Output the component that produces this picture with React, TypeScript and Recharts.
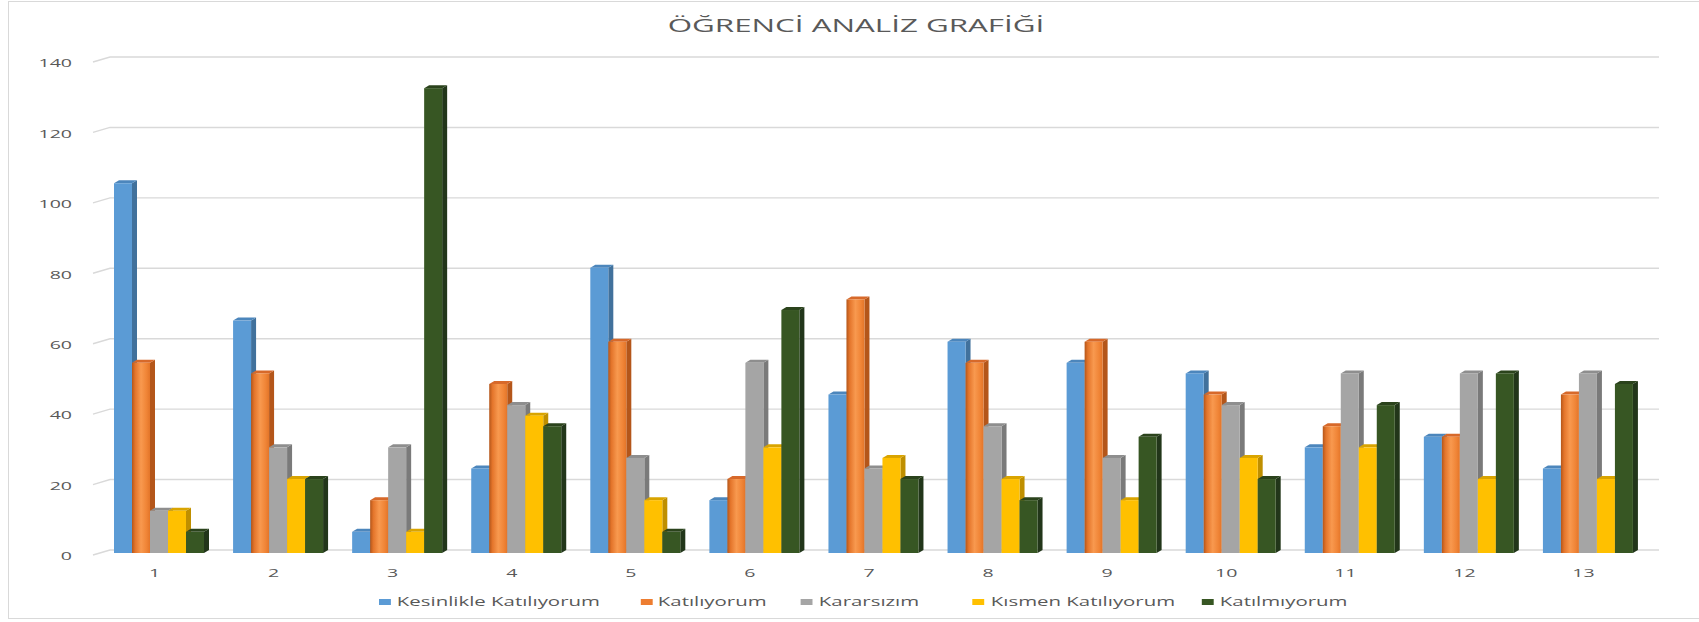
import React from 'react';
import { BarChart, Bar, XAxis, YAxis, CartesianGrid, Legend } from 'recharts';

const CATEGORIES = ['1', '2', '3', '4', '5', '6', '7', '8', '9', '10', '11', '12', '13'];
const KESINLIKLE = [105, 66, 6, 24, 81, 15, 45, 60, 54, 51, 30, 33, 24];
const KATILIYORUM = [54, 51, 15, 48, 60, 21, 72, 54, 60, 45, 36, 33, 45];
const KARARSIZIM = [12, 30, 30, 42, 27, 54, 24, 36, 27, 42, 51, 51, 51];
const KISMEN = [12, 21, 6, 39, 15, 30, 27, 21, 15, 27, 30, 21, 21];
const KATILMIYORUM = [6, 21, 132, 36, 6, 69, 21, 15, 33, 21, 42, 51, 48];
const Y_TICKS = [0, 20, 40, 60, 80, 100, 120, 140];
const TITLE = 'ÖĞRENCİ ANALİZ GRAFİĞİ';

const SERIES = [
  { key: 'k1', name: 'Kesinlikle Katılıyorum', values: KESINLIKLE, front: '#5B9BD5', side: '#41719C', top: '#4C86BC' },
  { key: 'k2', name: 'Katılıyorum', values: KATILIYORUM, front: 'url(#orangeGrad)', legend: '#ED7D31', side: '#B4561A', top: '#D7692A' },
  { key: 'k3', name: 'Kararsızım', values: KARARSIZIM, front: '#A5A5A5', side: '#7A7A7A', top: '#8E8E8E' },
  { key: 'k4', name: 'Kısmen Katılıyorum', values: KISMEN, front: '#FFC000', side: '#BF8F00', top: '#D9A400' },
  { key: 'k5', name: 'Katılmıyorum', values: KATILMIYORUM, front: '#375623', side: '#22361A', top: '#2B431C' },
];

// legend slot widths (layout only, px in the final picture)
const LEGEND_SLOTS = [261, 161, 172, 229, 150];
const LEGEND_LEFT = 379;

const data = CATEGORIES.map((c, i) => {
  const row: any = { name: c };
  SERIES.forEach((s) => { row[s.key] = s.values[i]; });
  return row;
});

const W = 1699;
const H = 622;
const SX = 1.7;
const TEXT = '#595959';
const FONT = '"Open Sans", sans-serif';
const GRID = '#D9D9D9';
const DX = 5;
const DY = 3;

const make3D = (s: any) => (props: any) => {
  const { x, y, width, height } = props;
  if (height == null || isNaN(height)) return <g />;
  const fy = y + DY;
  return (
    <g>
      <polygon points={`${x + width},${fy} ${x + width + DX},${y} ${x + width + DX},${y + height} ${x + width},${fy + height}`} fill={s.side} />
      <polygon points={`${x},${fy} ${x + DX},${y} ${x + width + DX},${y} ${x + width},${fy}`} fill={s.top} />
      <rect x={x} y={fy} width={width} height={height} fill={s.front} />
    </g>
  );
};

const GridLine = (p: any) => (
  <polyline
    key={p.key ?? `g-${p.index}`}
    points={`${p.x1 - 7},${p.y1 + 5} ${p.x1 + 10},${p.y1} ${p.x2 + 11},${p.y1}`}
    fill="none"
    stroke={GRID}
    strokeWidth={1.4}
  />
);

const YTick = (props: any) => {
  const { y, payload } = props;
  return (
    <text transform={`translate(72,${y + 10.3}) scale(${SX},1)`} textAnchor="end" fontFamily={FONT} fontSize={11.5} fill={TEXT}>
      {payload.value}
    </text>
  );
};

const XTick = (props: any) => {
  const { x, payload } = props;
  return (
    <text transform={`translate(${x - 5},576.5) scale(${SX},1)`} textAnchor="middle" fontFamily={FONT} fontSize={11.5} fill={TEXT}>
      {payload.value}
    </text>
  );
};

const LegendContent = () => (
  <div style={{ width: W, height: 16, position: 'relative' }}>
    <div style={{ position: 'absolute', left: LEGEND_LEFT, top: 0, display: 'flex', alignItems: 'center', transform: `scaleX(${SX})`, transformOrigin: 'left center', fontFamily: FONT, fontSize: 12, color: TEXT, lineHeight: '14px', whiteSpace: 'nowrap' }}>
      {SERIES.map((s, i) => (
        <div key={s.key} style={{ display: 'flex', alignItems: 'center', width: LEGEND_SLOTS[i] / SX }}>
          <span style={{ display: 'inline-block', width: 7, height: 6, background: s.legend || s.front, marginRight: 3.5 }} />
          <span>{s.name}</span>
        </div>
      ))}
    </div>
  </div>
);

export default function App() {
  return (
    <div style={{ position: 'absolute', left: 0, top: 0, width: W, height: H, overflow: 'hidden', background: '#fff' }}>
      <div style={{ position: 'absolute', left: 8, top: 1, width: W, height: 618, border: '1.5px solid #D9D9D9', boxSizing: 'border-box' }} />
      <svg style={{ position: 'absolute', left: 0, top: 0 }} width={W} height={60}>
        <text transform={`translate(856,31.7) scale(1.74,1)`} textAnchor="middle" fontFamily={FONT} fontSize={18} fill={TEXT}>
          {TITLE}
        </text>
      </svg>
      <div style={{ position: 'absolute', left: 0, top: 0 }}>
        <BarChart width={W} height={H} data={data} margin={{ top: 57, right: 51, bottom: 42, left: 0 }} barCategoryGap={14} barGap={0}>
          <defs>
            <linearGradient id="orangeGrad" x1="0" y1="0" x2="1" y2="0">
              <stop offset="0" stopColor="#B4561A" />
              <stop offset="0.18" stopColor="#E4752B" />
              <stop offset="0.5" stopColor="#F8994F" />
              <stop offset="0.8" stopColor="#F08537" />
              <stop offset="1" stopColor="#E37529" />
            </linearGradient>
          </defs>
          <CartesianGrid vertical={false} horizontal={GridLine as any} />
          <XAxis dataKey="name" axisLine={false} tickLine={false} height={30} tick={<XTick />} interval={0} />
          <YAxis domain={[0, 140]} ticks={Y_TICKS} axisLine={false} tickLine={false} width={100} tick={<YTick />} interval={0} />
          <Legend verticalAlign="middle" align="center" wrapperStyle={{ top: 595, left: 0, width: W }} content={<LegendContent />} />
          {SERIES.map((s) => (
            <Bar key={s.key} dataKey={s.key} name={s.name} fill={s.legend || s.front} shape={make3D(s)} isAnimationActive={false} />
          ))}
        </BarChart>
      </div>
    </div>
  );
}
